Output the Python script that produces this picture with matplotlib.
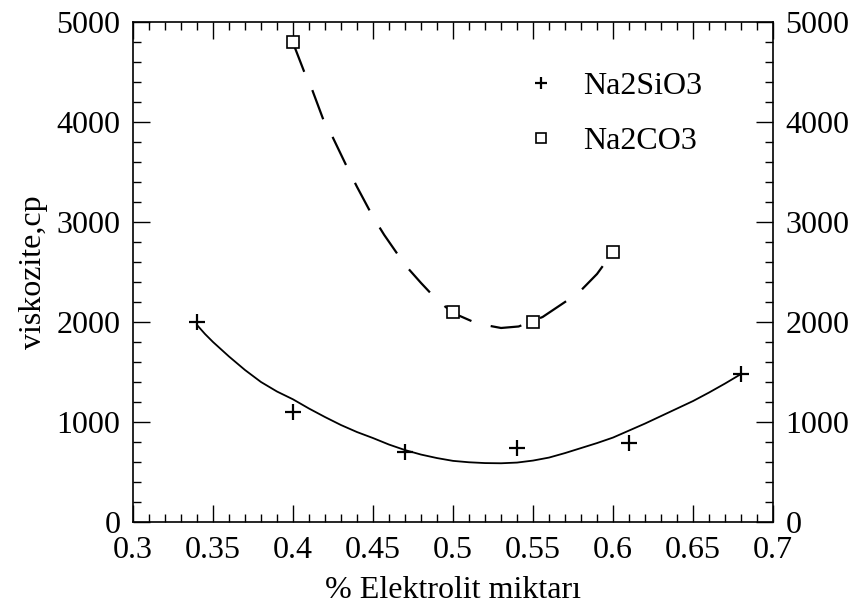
import numpy as np
import matplotlib
matplotlib.use("Agg")
import matplotlib.pyplot as plt
from matplotlib.ticker import MultipleLocator, FuncFormatter

# measured points
x_sio3 = [0.34, 0.40, 0.47, 0.54, 0.61, 0.68]
y_sio3 = [2000, 1100, 700, 740, 790, 1480]
x_co3 = [0.40, 0.50, 0.55, 0.60]
y_co3 = [4800, 2100, 2000, 2700]

# fitted curves
xc_sio3 = [0.34, 0.345, 0.35, 0.36, 0.37, 0.38, 0.39, 0.40, 0.41, 0.42, 0.43,
           0.44, 0.45, 0.46, 0.47, 0.48, 0.49, 0.50, 0.51, 0.52, 0.53,
           0.54, 0.55, 0.56, 0.57, 0.58, 0.59, 0.60, 0.61, 0.62, 0.63,
           0.64, 0.65, 0.66, 0.67, 0.68]
yc_sio3 = [1970, 1880, 1800, 1655, 1520, 1400, 1305, 1227, 1135, 1050, 970,
           900, 840, 775, 720, 675, 640, 612, 598, 590, 588,
           595, 615, 645, 690, 740, 790, 845, 915, 985, 1060,
           1135, 1210, 1295, 1385, 1480]
xc_co3 = [0.40, 0.407, 0.412, 0.419, 0.425, 0.434, 0.44, 0.45, 0.457, 0.47,
          0.48, 0.49, 0.50, 0.515, 0.53, 0.541, 0.556, 0.57, 0.579, 0.59, 0.60]
yc_co3 = [4790, 4500, 4320, 4020, 3840, 3540, 3350, 3050, 2870, 2570,
          2390, 2220, 2090, 1985, 1940, 1955, 2050, 2200, 2300, 2480, 2700]

plt.rcParams['font.family'] = ['Liberation Serif', 'DejaVu Serif']
plt.rcParams['font.size'] = 23

fig = plt.figure(figsize=(8.58, 6.05), dpi=100)
ax = fig.add_axes([0.155, 0.137, 0.746, 0.827])

ax.plot(xc_sio3, yc_sio3, color='black', lw=1.3, linestyle='-')
ax.plot(xc_co3, yc_co3, color='black', lw=1.6, linestyle=(0, (14, 9)))
ax.plot(x_sio3, y_sio3, linestyle='none', marker='+', ms=11, mew=1.6,
        color='black', label='Na2SiO3')
ax.plot(x_co3, y_co3, linestyle='none', marker='s', ms=9, mew=1.2,
        mfc='white', mec='black', label='Na2CO3')

ax.set_xlim(0.3, 0.7)
ax.set_ylim(0, 5000)
ax.xaxis.set_major_locator(MultipleLocator(0.05))
ax.xaxis.set_minor_locator(MultipleLocator(0.01))
ax.yaxis.set_major_locator(MultipleLocator(1000))
ax.yaxis.set_minor_locator(MultipleLocator(200))
ax.xaxis.set_major_formatter(FuncFormatter(lambda v, p: f"{round(v, 2):g}"))
ax.tick_params(which='both', direction='in', top=True, right=True,
               labelright=True, width=1)
ax.tick_params(which='major', length=12)
ax.tick_params(axis='x', which='major', pad=10)
ax.tick_params(axis='y', which='major', pad=9)
ax.tick_params(which='minor', length=6)
for s in ax.spines.values():
    s.set_linewidth(1.2)

ax.set_xlabel('% Elektrolit miktarı', labelpad=8)
ax.set_ylabel('viskozite,cp', labelpad=6)

ax.legend(loc='upper left', bbox_to_anchor=(0.568, 0.958), frameon=False,
          handlelength=1.0, handletextpad=0.8, labelspacing=0.8,
          markerscale=0.8, fontsize=23)

fig.savefig('out.png', dpi=100)
